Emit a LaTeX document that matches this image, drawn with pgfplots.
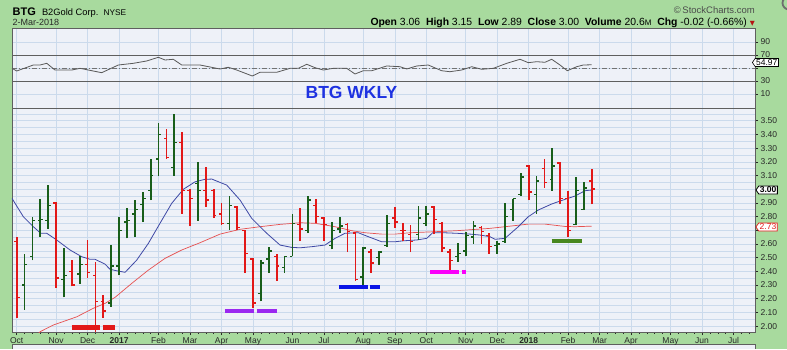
\documentclass[border=0pt]{standalone}
\usepackage{pgfplots}
\pgfplotsset{compat=1.18}
\usepackage{pgfplotstable}
\usepackage{fontspec}
\setmainfont{Liberation Sans}
\newfontfamily\dejavu{DejaVu Sans}
\usetikzlibrary{shapes.symbols}

\definecolor{scgreen}{RGB}{168,218,158}
\definecolor{plotbg}{RGB}{238,241,248}
\definecolor{gridc}{RGB}{203,218,236}
\definecolor{barred}{RGB}{226,24,24}
\definecolor{bargreen}{RGB}{24,94,26}
\definecolor{mablue}{RGB}{62,72,165}
\definecolor{mared}{RGB}{230,80,80}
\definecolor{framec}{RGB}{95,95,95}
\definecolor{titleblue}{RGB}{30,50,225}
\definecolor{suppurple}{RGB}{155,40,240}
\definecolor{supblue}{RGB}{10,20,230}
\definecolor{supmag}{RGB}{250,0,250}
\definecolor{supgreen}{RGB}{72,135,30}
\definecolor{txt}{RGB}{40,40,40}

\pgfplotstableread{
i o h l c
0 2.62 2.65 2.06 2.21
5 2.90 2.91 2.28 2.35
7 2.40 2.48 2.29 2.30
9 2.45 2.63 2.35 2.39
10 2.37 2.47 1.96 2.18
11 2.18 2.23 2.06 2.11
19 3.37 3.44 3.22 3.23
21 3.34 3.42 2.82 2.99
22 2.99 3.00 2.73 2.93
24 2.99 3.16 2.87 2.92
25 2.99 3.00 2.79 2.81
26 2.82 2.90 2.74 2.75
28 2.87 2.88 2.70 2.72
29 2.70 2.70 2.39 2.53
30 2.49 2.50 2.13 2.17
33 2.51 2.53 2.33 2.44
36 2.74 2.86 2.62 2.71
38 2.88 2.93 2.75 2.80
39 2.79 2.80 2.62 2.74
42 2.74 2.75 2.54 2.69
43 2.68 2.69 2.33 2.34
45 2.54 2.56 2.39 2.46
48 2.79 2.87 2.72 2.76
49 2.70 2.75 2.62 2.70
50 2.67 2.74 2.54 2.62
53 2.87 2.88 2.67 2.78
54 2.75 2.76 2.54 2.57
55 2.54 2.56 2.41 2.48
59 2.72 2.73 2.60 2.69
60 2.66 2.68 2.53 2.58
65 3.17 3.18 2.92 2.98
67 3.15 3.22 3.01 3.05
69 3.19 3.20 2.89 2.93
70 2.93 2.99 2.65 2.70
73 3.06 3.15 2.89 3.00
}\redbars

\pgfplotstableread{
i o h l c
1 2.30 2.53 2.12 2.45
2 2.51 2.80 2.48 2.77
3 2.77 2.93 2.65 2.78
4 2.77 3.03 2.71 2.88
6 2.34 2.57 2.21 2.37
8 2.38 2.51 2.31 2.45
12 2.17 2.59 2.14 2.44
13 2.44 2.80 2.37 2.70
14 2.76 2.86 2.64 2.77
15 2.82 2.92 2.65 2.85
16 2.89 2.98 2.76 2.93
17 2.99 3.22 2.92 3.10
18 3.22 3.48 3.10 3.40
20 3.16 3.55 3.10 3.34
23 3.04 3.20 2.77 2.99
27 2.75 2.95 2.70 2.88
31 2.24 2.48 2.18 2.46
32 2.49 2.58 2.39 2.55
34 2.43 2.51 2.39 2.51
35 2.51 2.82 2.51 2.75
37 2.70 2.95 2.68 2.92
40 2.59 2.76 2.56 2.70
41 2.71 2.80 2.68 2.73
44 2.36 2.58 2.30 2.57
46 2.50 2.55 2.45 2.54
47 2.59 2.81 2.58 2.75
51 2.67 2.88 2.63 2.79
52 2.75 2.88 2.73 2.82
56 2.51 2.61 2.47 2.53
57 2.55 2.69 2.51 2.66
58 2.65 2.77 2.60 2.73
61 2.59 2.62 2.53 2.60
62 2.62 2.90 2.61 2.80
63 2.85 2.93 2.77 2.93
64 2.96 3.12 2.95 3.09
66 2.96 3.10 2.82 3.06
68 3.07 3.30 2.99 3.17
71 2.74 3.09 2.74 2.99
72 2.85 3.05 2.85 3.01
}\greenbars

\pgfplotsset{
  scpanel/.style={
    scale only axis, width=743pt,
    xmin=-0.6, xmax=93.73,
    axis background/.style={fill=plotbg},
    axis line style={framec, line width=0.8pt},
    xtick={0,5,9,13,18,22,26,30,35,39,44,48,52,57,61,65,70,74,78,83,87,91},
    xmajorgrids=true, ymajorgrids=true,
    grid style={gridc, line width=0.5pt},
    ytick pos=right, yticklabel pos=right,
    /pgf/number format/assume math mode=true,
    tick style={txt, line width=0.5pt},
    major tick length=3pt, minor tick length=1.5pt,
    tick align=outside,
    yticklabel style={font=\fontsize{8.5}{9}\selectfont, text=txt, xshift=-1pt},
    clip=true,
  },
  ohlcv/.style={draw=none, mark=none, forget plot,
    error bars/.cd, y dir=plus, y explicit, error mark=none,
    error bar style={draw=#1, line width=1.75pt}},
  ohlco/.style={draw=none, mark=none, forget plot,
    error bars/.cd, x dir=minus, x explicit, error mark=none,
    error bar style={draw=#1, line width=1.4pt}},
  ohlcc/.style={draw=none, mark=none, forget plot,
    error bars/.cd, x dir=plus, x explicit, error mark=none,
    error bar style={draw=#1, line width=1.4pt}},
}

\begin{document}
\begin{tikzpicture}
\fill[scgreen] (0pt,0pt) rectangle (787pt,349pt);
\useasboundingbox (0pt,0pt) rectangle (787pt,349pt);
\fill[plotbg] (12pt,0pt) rectangle (755pt,4.5pt);
\draw[framec, line width=0.6pt] (12pt,0pt) -- (12pt,4.5pt) -- (755pt,4.5pt) -- (755pt,0pt);
\draw[framec!90, line width=1.8pt] (789pt,346pt) circle (6.5pt);

% header
\node[anchor=base west, inner sep=0, text=black] at (12.5pt,334pt)
  {\fontsize{11}{12}\selectfont\bfseries BTG\ \ \mdseries\fontsize{9.3}{10}\selectfont B2Gold Corp.\ \ {\fontsize{8.3}{9}\selectfont NYSE}};
\node[anchor=base west, inner sep=0, text=txt] at (12.5pt,323.5pt)
  {\fontsize{9}{10}\selectfont 2-Mar-2018};
\node[anchor=base east, inner sep=0, text=black!70] at (755pt,335.5pt)
  {\fontsize{9.5}{10}\selectfont\textcopyright\,StockCharts.com};
\node[anchor=base east, inner sep=0, text=black] at (755pt,323.5pt)
  {\fontsize{10.4}{11}\selectfont\textbf{Open} 3.06\ \ \textbf{High} 3.15\ \ \textbf{Low} 2.89\ \ \textbf{Close} 3.00\ \ \textbf{Volume} 20.6{\fontsize{8}{8}\selectfont M}\ \ \textbf{Chg} -0.02 (-0.66\%) {\dejavu\fontsize{6.5}{7}\selectfont\color{barred!80!black}▼}};

% RSI panel
\begin{axis}[scpanel, height=80pt, at={(12pt,241pt)}, anchor=south west,
  ymin=-11.5, ymax=111.5,
  ytick={10,30,50,70,90},
  yticklabels={10,30,,70,90},
  xticklabels={},
  xtick style={draw=none},
]
\addplot[framec, line width=0.8pt, forget plot] coordinates {(-0.6,70) (93.73,70)};
\addplot[framec, line width=0.8pt, forget plot] coordinates {(-0.6,30) (93.73,30)};
\addplot[black!55, line width=0.7pt, dash pattern=on 5pt off 2pt on 1pt off 2pt, forget plot] coordinates {(-0.6,50) (93.73,50)};
\addplot[black!65, line width=0.8pt] coordinates {
(-0.6,49.5) (0,45.4) (2.11,54.6) (2.96,54.6) (3.81,57.2) (4.86,46.9) (6.98,46.9)
(8.04,49.5) (9.09,46.9) (10.79,42.8) (12.9,54.6) (14.8,57.2) (16.5,60.8)
(17.98,66.5) (18.83,62.3) (19.88,63.4) (20.95,54.6) (23.27,54.6) (25.81,48.5)
(26.86,51.1) (27.93,46.9) (29.91,37.7) (30.89,43.4) (33.01,43.4) (34.7,49.5)
(35.75,49.5) (36.82,55.7) (37.87,50.5) (38.92,46.9) (40.19,49.5) (41.89,49.5)
(42.95,40.8) (44,45.8) (45.07,45.8) (46.97,53.1) (48.66,52) (49.51,48.5)
(50.78,53.1) (52.25,54.6) (53.95,45.8) (55,44.3) (56.49,46.9) (57.76,52)
(59.03,48) (60.51,49.5) (62.21,57.2) (63.9,63.4) (64.95,58.2) (66.02,59.7)
(67.07,58.8) (67.92,63.4) (68.97,54.6) (69.9,45.8) (71.09,52) (71.93,54.6) (73,54.97)};
\node[font=\fontsize{17.5}{18}\selectfont\bfseries, text=titleblue, inner sep=0] at (axis cs:42.5,13) {BTG WKLY};
\end{axis}
\node[signal, signal to=west, signal pointer angle=110, draw=black, fill=white, line width=0.6pt, inner sep=1pt, anchor=west, font=\fontsize{8.5}{9}\selectfont] at (752pt,286.5pt) {54.97};

% price panel
\begin{axis}[scpanel, height=224pt, at={(12pt,17pt)}, anchor=south west,
  ymin=1.957, ymax=3.593,
  ytick={2.0,2.1,2.2,2.3,2.4,2.5,2.6,2.7,2.8,2.9,3.0,3.1,3.2,3.3,3.4,3.5},
  yticklabels={2.00,2.10,2.20,2.30,2.40,2.50,2.60,,2.80,2.90,,3.10,3.20,3.30,3.40,3.50},
  minor ytick={2.05,2.15,2.25,2.35,2.45,2.55,2.65,2.75,2.85,2.95,3.05,3.15,3.25,3.35,3.45,3.55},
  yminorgrids=true, minor grid style={gridc, line width=0.5pt},
  minor y tick style={draw=none},
  xtick pos=left,
  xticklabels={Oct,Nov,Dec,\textbf{2017},Feb,Mar,Apr,May,Jun,Jul,Aug,Sep,Oct,Nov,Dec,\textbf{2018},Feb,Mar,Apr,May,Jun,Jul},
  xticklabel style={font=\fontsize{8.5}{9}\selectfont, text=txt, yshift=1pt},
  minor xtick={1,2,3,4,6,7,8,10,11,12,14,15,16,17,19,20,21,23,24,25,27,28,29,31,32,33,34,36,37,38,40,41,42,43,45,46,47,49,50,51,53,54,55,56,58,59,60,62,63,64,66,67,68,69,71,72,73,75,76,77,79,80,81,82,84,85,86,88,89,90,92,93},
]
% moving averages
\addplot[mared, line width=0.7pt] coordinates {
(2.3,1.92) (2.96,1.959) (4.65,2.008) (7.62,2.068) (9.72,2.130) (11.21,2.166) (12.48,2.210)
(14.6,2.312) (16.71,2.409) (18.83,2.495) (20.95,2.556) (23.27,2.609) (25.81,2.672)
(28.35,2.707) (30.89,2.726) (33.43,2.743) (35.97,2.755) (37.87,2.751) (40.41,2.726)
(42.53,2.697) (44.22,2.682) (46.34,2.672) (48.02,2.672) (49.93,2.682) (52.89,2.689)
(55.86,2.697) (60.09,2.714) (61.99,2.726) (64.95,2.745) (67.07,2.745) (69.61,2.728)
(70.88,2.726) (73,2.73)};
\addplot[mablue, line width=0.8pt] coordinates {
(-0.6,2.933) (0.84,2.799) (2.11,2.726) (3.05,2.678) (3.81,2.678) (5.08,2.629)
(6.77,2.556) (8.25,2.507) (9.31,2.488) (9.94,2.488) (11.21,2.453) (11.84,2.415)
(12.70,2.404) (13.76,2.393) (15.23,2.482) (16.71,2.604) (18.19,2.751) (19.68,2.897)
(21.15,2.999) (22.64,3.054) (23.90,3.072) (24.76,3.074) (26.66,3.030) (28.35,2.921)
(29.83,2.787) (31.74,2.678) (33.43,2.592) (34.91,2.575) (35.97,2.572) (37.45,2.580)
(39.14,2.592) (40.41,2.641) (41.68,2.678) (43.37,2.682) (44.64,2.653) (46.34,2.616)
(48.02,2.616) (49.08,2.623) (50.78,2.629) (52.05,2.641) (52.81,2.682) (54.16,2.682)
(55.86,2.678) (57.55,2.672) (58.82,2.665) (60.09,2.653) (60.72,2.634) (61.99,2.641)
(63.68,2.726) (64.95,2.799) (66.22,2.848) (67.92,2.892) (69.61,2.926) (70.88,2.950)
(72.15,2.989) (73.00,2.994)};
% OHLC bars
\addplot[ohlcv=barred] table[x=i, y=l, y error expr=\thisrow{h}-\thisrow{l}] {\redbars};
\addplot[ohlco=barred] table[x=i, y=o, x error expr=0.36] {\redbars};
\addplot[ohlcc=barred] table[x=i, y=c, x error expr=0.36] {\redbars};
\addplot[ohlcv=bargreen] table[x=i, y=l, y error expr=\thisrow{h}-\thisrow{l}] {\greenbars};
\addplot[ohlco=bargreen] table[x=i, y=o, x error expr=0.36] {\greenbars};
\addplot[ohlcc=bargreen] table[x=i, y=c, x error expr=0.36] {\greenbars};
% support marks
\addplot[barred, line width=4.5pt, forget plot] coordinates {(6.98,1.99) (10.57,1.99)};
\addplot[barred, line width=4.5pt, forget plot] coordinates {(10.92,1.99) (12.48,1.99)};
\addplot[suppurple, line width=4pt, forget plot] coordinates {(26.44,2.112) (30.12,2.112)};
\addplot[suppurple, line width=4pt, forget plot] coordinates {(30.47,2.112) (33.08,2.112)};
\addplot[supblue, line width=4pt, forget plot] coordinates {(40.95,2.283) (44.64,2.283)};
\addplot[supblue, line width=4pt, forget plot] coordinates {(44.85,2.283) (46.12,2.283)};
\addplot[supmag, line width=4pt, forget plot] coordinates {(52.47,2.393) (56.19,2.393)};
\addplot[supmag, line width=4pt, forget plot] coordinates {(56.49,2.393) (57.0,2.393)};
\addplot[supgreen, line width=4.5pt, forget plot] coordinates {(67.92,2.621) (71.73,2.621)};
\end{axis}
\node[signal, signal to=west, signal pointer angle=110, draw=black, fill=white, line width=0.8pt, inner sep=1pt, anchor=west, font=\fontsize{8.5}{9}\selectfont\bfseries] at (755.5pt,159pt) {3.00};
\node[signal, signal to=west, signal pointer angle=110, draw=barred, fill=white, line width=0.7pt, inner sep=1pt, anchor=west, text=barred, font=\fontsize{8.5}{9}\selectfont] at (755.5pt,122pt) {2.73};
\end{tikzpicture}
\end{document}
